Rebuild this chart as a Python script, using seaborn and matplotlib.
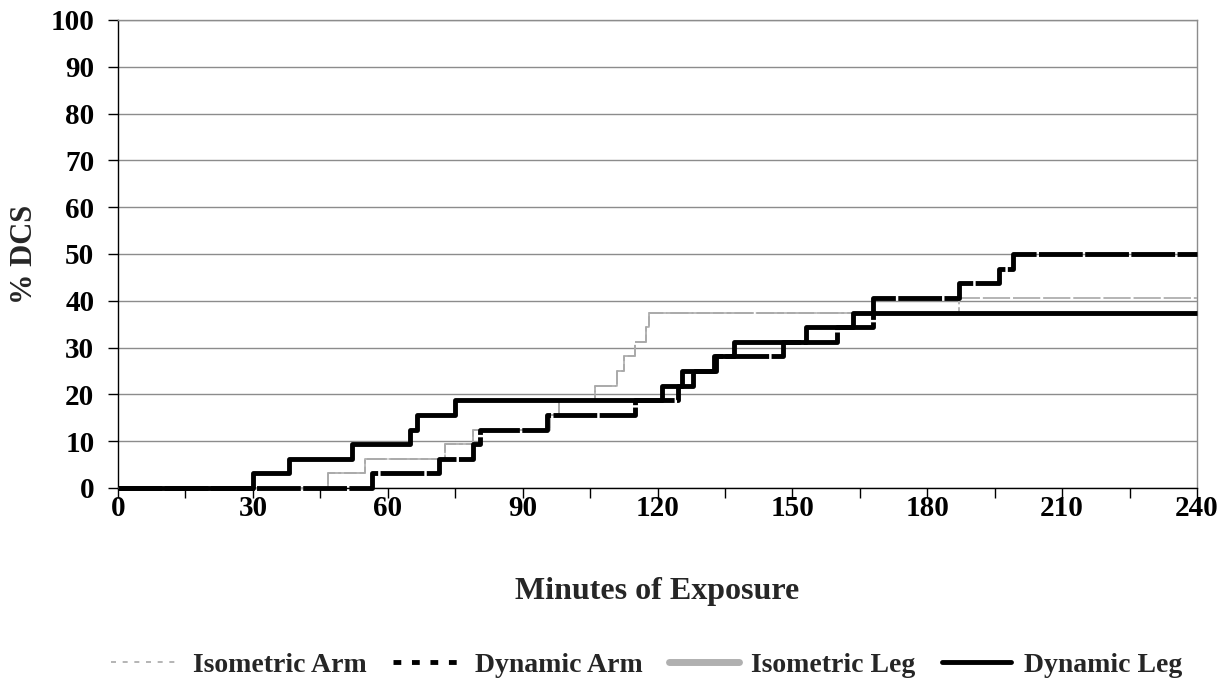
import matplotlib
matplotlib.use("Agg")
import matplotlib.pyplot as plt
from matplotlib.lines import Line2D
from matplotlib.ticker import MultipleLocator
import seaborn as sns
import pandas as pd

# ---- data (event times in minutes, cumulative % DCS) ----
iso_arm_t = [0, 46.7, 55, 72.7, 79, 96, 98, 106, 111, 112.5, 115, 117.5, 118, 240]
iso_arm_v = [0, 3.125, 6.25, 9.375, 12.5, 15.625, 18.75, 21.875, 25, 28.125, 31.25, 34.375, 37.5, 37.5]

dyn_arm_t = [0, 56.5, 71.5, 79, 80.5, 95.5, 115, 124.5, 128, 133, 148, 160, 168, 187, 196, 199, 240]
dyn_arm_v = [0, 3.125, 6.25, 9.375, 12.5, 15.625, 18.75, 21.875, 25, 28.125, 31.25, 34.375, 40.625, 43.75, 46.875, 50, 50]

iso_leg_t = [0, 46.7, 55, 72.7, 79, 96, 98, 106, 111, 112.5, 115, 117.5, 118, 187, 240]
iso_leg_v = [0, 3.125, 6.25, 9.375, 12.5, 15.625, 18.75, 21.875, 25, 28.125, 31.25, 34.375, 37.5, 40.625, 40.625]

dyn_leg_t = [0, 30, 38, 52, 65, 66.5, 75, 121, 125.5, 132.5, 137, 153, 163.5, 240]
dyn_leg_v = [0, 3.125, 6.25, 9.375, 12.5, 15.625, 18.75, 21.875, 25, 28.125, 31.25, 34.375, 37.5, 37.5]

series_names = ["Isometric Arm", "Dynamic Arm", "Isometric Leg", "Dynamic Leg"]
x_ticks = [0, 30, 60, 90, 120, 150, 180, 210, 240]
y_ticks = [0, 10, 20, 30, 40, 50, 60, 70, 80, 90, 100]

sns.set_style("white")
plt.rcParams['font.family'] = ['Liberation Serif', 'DejaVu Serif']
plt.rcParams['font.weight'] = 'bold'

fig = plt.figure(figsize=(12.27, 6.92), dpi=100)
ax = fig.add_axes([118/1227, 1-488/692, (1197-118)/1227, (488-20)/692])

def frame(t, v, name):
    return pd.DataFrame({"t": t, "v": v, "series": name})

styles = {
    "Isometric Leg": dict(color="#b4b4b4", lw=1.4, ls=(0, (14, 1.5)), z=3),
    "Isometric Arm": dict(color="#a8a8a8", lw=1.1, ls=(0, (12, 2)), z=4),
    "Dynamic Leg": dict(color="black", lw=3.5, ls="-", z=6),
    "Dynamic Arm": dict(color="black", lw=3.5, ls=(0, (9, 0.5)), z=5),
}
data = {
    "Isometric Arm": frame(iso_arm_t, iso_arm_v, "Isometric Arm"),
    "Dynamic Arm": frame(dyn_arm_t, dyn_arm_v, "Dynamic Arm"),
    "Isometric Leg": frame(iso_leg_t, iso_leg_v, "Isometric Leg"),
    "Dynamic Leg": frame(dyn_leg_t, dyn_leg_v, "Dynamic Leg"),
}
for name in ["Isometric Leg", "Isometric Arm", "Dynamic Arm", "Dynamic Leg"]:
    st = styles[name]
    sns.lineplot(data=data[name], x="t", y="v", ax=ax, drawstyle="steps-post",
                 color=st["color"], linewidth=st["lw"], linestyle=st["ls"],
                 zorder=st["z"], clip_on=False, legend=False,
                 solid_capstyle="butt", dash_capstyle="butt", estimator=None)

ax.set_xlim(0, 240)
ax.set_ylim(0, 100)
ax.set_xticks(x_ticks)
ax.xaxis.set_minor_locator(MultipleLocator(15))
ax.set_yticks(y_ticks)
ax.yaxis.grid(True, color="#8c8c8c", linewidth=1.0, zorder=0)
ax.set_axisbelow(True)
ax.tick_params(axis="both", which="both", direction="out", length=7, width=1,
               colors="black", labelsize=21, bottom=True, left=True)
ax.tick_params(axis="x", which="major", pad=-2)
ax.tick_params(axis="y", which="major", pad=10)
for lab in ax.get_xticklabels() + ax.get_yticklabels():
    lab.set_fontweight("bold")
for s in ["left", "bottom"]:
    ax.spines[s].set_color("black")
    ax.spines[s].set_linewidth(1)
ax.spines["right"].set_color("#8c8c8c")
ax.spines["top"].set_color("#8c8c8c")
ax.spines["right"].set_linewidth(1)
ax.spines["top"].set_linewidth(1)

ax.set_xlabel("Minutes of Exposure", fontsize=23, fontweight="bold", labelpad=40)
ax.set_ylabel("% DCS", fontsize=22, fontweight="bold", labelpad=8)

handles = [
    Line2D([], [], color="#a8a8a8", lw=1.2, ls=(0, (3, 4))),
    Line2D([], [], color="black", lw=3.5, ls=(0, (1.6, 2.2))),
    Line2D([], [], color="#b0b0b0", lw=5),
    Line2D([], [], color="black", lw=3.5),
]
fig.legend(handles, series_names, loc="center", bbox_to_anchor=(0.527, 0.039),
           bbox_transform=fig.transFigure, ncol=4, frameon=False,
           prop={"size": 20, "weight": "bold"}, handlelength=2.5,
           handletextpad=0.45, columnspacing=0.95)

fig.savefig("out.png", dpi=100)
